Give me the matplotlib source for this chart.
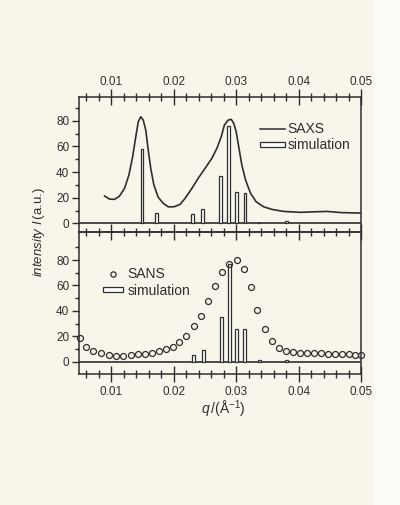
import numpy as np
import matplotlib
matplotlib.use("Agg")
import matplotlib.pyplot as plt
from matplotlib.lines import Line2D
from matplotlib.patches import Patch, Rectangle

plt.rcParams['font.family'] = ['Liberation Sans', 'DejaVu Sans']
plt.rcParams['mathtext.fontset'] = 'custom'
plt.rcParams['mathtext.rm'] = 'Liberation Sans'
plt.rcParams['mathtext.it'] = 'Liberation Sans:italic'

# SAXS curve (upper panel)
saxs_q = [0.0089, 0.0097, 0.0105, 0.0113, 0.0121, 0.0128, 0.0134, 0.0139, 0.0143,
          0.0147, 0.0151, 0.0155, 0.0159, 0.0163, 0.0168, 0.0175, 0.0183, 0.0191,
          0.0200, 0.0210, 0.0218, 0.0229, 0.0239, 0.0250, 0.0261, 0.0269, 0.0276,
          0.0281, 0.0287, 0.0292, 0.0296, 0.0300, 0.0304, 0.0309, 0.0315, 0.0323,
          0.0332, 0.0344, 0.0358, 0.0376, 0.0403, 0.0425, 0.0446, 0.0468, 0.0500]
saxs_i = [21.3, 18.9, 18.7, 21.3, 27.3, 37.7, 52, 67.5, 79.2,
          83.1, 80.5, 72.7, 57, 42.9, 29.9, 20.3, 15.6, 12.9,
          12.9, 14.8, 19.5, 27.3, 35.1, 42.9, 50.7, 58.5, 67.5,
          76.6, 80.5, 81.1, 78, 71.4, 59.7, 45.5, 33.8, 23.4,
          16.8, 12.9, 10.8, 9.3, 8.6, 9.0, 9.3, 8.4, 8.0]

# simulated reflections, upper panel
sim1_q = [0.0149, 0.0172, 0.0230, 0.0246, 0.0275, 0.0288, 0.0301, 0.0314, 0.0336, 0.0380]
sim1_i = [58, 8, 7.3, 11.4, 37, 76, 24.7, 24, 0.6, 1.5]

# SANS points (lower panel)
sans_q = [0.0049, 0.0059, 0.0071, 0.0084, 0.0096, 0.0107, 0.0119, 0.0131, 0.0142,
          0.0153, 0.0165, 0.0176, 0.0188, 0.0198, 0.0209, 0.0220, 0.0232, 0.0244,
          0.0255, 0.0266, 0.0277, 0.0289, 0.0301, 0.0312, 0.0323, 0.0334, 0.0346,
          0.0357, 0.0368, 0.0380, 0.0391, 0.0402, 0.0413, 0.0424, 0.0436, 0.0447,
          0.0458, 0.0469, 0.0480, 0.0491, 0.0500]
sans_i = [18.4, 11.3, 8.7, 6.6, 5.2, 4.5, 4.7, 5.2, 6.0,
          6.3, 7.1, 8.4, 9.7, 11.3, 15.7, 20.2, 28, 36,
          47.8, 59.6, 70.9, 76.6, 80.3, 73.2, 58.5, 40.7, 25.7,
          16.3, 10.5, 8.7, 7.6, 7.0, 6.8, 6.6, 6.5, 6.3,
          6.2, 6.0, 5.9, 5.6, 5.2]

# simulated reflections, lower panel
sim2_q = [0.0231, 0.0247, 0.0276, 0.0289, 0.0301, 0.0313, 0.0337, 0.0380]
sim2_i = [5.2, 9.2, 35.4, 77, 25.5, 26, 1, 1]

bg = '#f8f6ea'
ink = '#2e2e2e'

fig = plt.figure(figsize=(4.0, 5.05), dpi=100, facecolor=bg)
fig.patches.append(Rectangle((375 / 400, 0), 25 / 400, 1, transform=fig.transFigure,
                             facecolor='#fcfcf8', edgecolor='none', zorder=-1))

ax1 = fig.add_axes([0.1975, 0.5412, 0.705, 0.2667])
ax2 = fig.add_axes([0.1975, 0.2594, 0.705, 0.2818])

for ax in (ax1, ax2):
    ax.set_facecolor('none')
    for s in ax.spines.values():
        s.set_color(ink)
        s.set_linewidth(1.1)
    ax.set_xlim(0.0048, 0.05)
    ax.set_xticks(np.arange(0.01, 0.051, 0.01))
    ax.set_xticks(np.arange(0.006, 0.0501, 0.002), minor=True)
    ax.set_yticks([0, 20, 40, 60, 80])
    ax.set_yticks([10, 30, 50, 70, 90], minor=True)
    ax.tick_params(axis='y', which='major', direction='out', length=5, width=1,
                   color=ink, labelsize=8.5, labelcolor=ink, pad=2)
    ax.tick_params(axis='y', which='minor', direction='out', length=3, width=1, color=ink)
    ax.axhline(0, color=ink, lw=1.2, zorder=1)

ax1.set_ylim(-6.5, 98.5)
ax2.set_ylim(-9.7, 102.3)

# upper panel: labels on top, ticks crossing the top spine
ax1.tick_params(axis='x', which='both', bottom=False, labelbottom=False,
                top=True, labeltop=True, direction='inout', color=ink, width=1,
                labelsize=8.5, labelcolor=ink)
ax1.tick_params(axis='x', which='major', length=11, pad=1)
ax1.tick_params(axis='x', which='minor', length=6)
ax1.xaxis.set_major_formatter(matplotlib.ticker.FormatStrFormatter('%.2f'))

# lower panel: ticks hanging from the shared boundary and crossing the bottom
ax2.tick_params(axis='x', which='both', top=True, direction='inout', color=ink,
                width=1, labelsize=8.5, labelcolor=ink)
ax2.tick_params(axis='x', which='major', length=11, pad=3)
ax2.tick_params(axis='x', which='minor', length=6)
ax2.xaxis.set_major_formatter(matplotlib.ticker.FormatStrFormatter('%.2f'))

w = 0.00045
ax1.plot(saxs_q, saxs_i, color=ink, lw=1.2, zorder=3)
ax1.bar(sim1_q, sim1_i, width=w, facecolor='white', edgecolor=ink, lw=0.9, zorder=2)

ax2.bar(sim2_q, sim2_i, width=w, facecolor='white', edgecolor=ink, lw=0.9, zorder=2)
ax2.plot(sans_q, sans_i, 'o', ms=4.3, mfc='none', mec=ink, mew=0.9, zorder=3,
         clip_on=False)

h_line = Line2D([], [], color=ink, lw=1.1)
h_bar = Patch(facecolor='white', edgecolor=ink, lw=0.9)
ax1.legend([h_line, h_bar], ['SAXS', 'simulation'], loc='upper left',
           bbox_to_anchor=(0.617, 0.865), frameon=False, fontsize=10,
           handlelength=1.8, handleheight=0.2, handletextpad=0.2, labelspacing=0.15,
           borderpad=0, labelcolor=ink)

h_dot = Line2D([], [], ls='none', marker='o', ms=3.8, mfc='none', mec=ink, mew=0.9)
ax2.legend([h_dot, h_bar], ['SANS', 'simulation'], loc='upper left',
           bbox_to_anchor=(0.059, 0.8), frameon=False, fontsize=10,
           handlelength=1.45, handleheight=0.2, handletextpad=0.35, labelspacing=0.2,
           borderpad=0, labelcolor=ink)

fig.text(0.098, 1 - 232 / 505, r'$\mathit{intensity\ I}\,$(a.u.)', rotation=90,
         ha='center', va='center', fontsize=9.5, color=ink)
fig.text(223 / 400, 1 - 409 / 505, r'$\mathit{q}\,$/(Å$^{-1}$)', ha='center',
         va='center', fontsize=10, color=ink)

fig.savefig('out.png', dpi=100, facecolor=bg)
